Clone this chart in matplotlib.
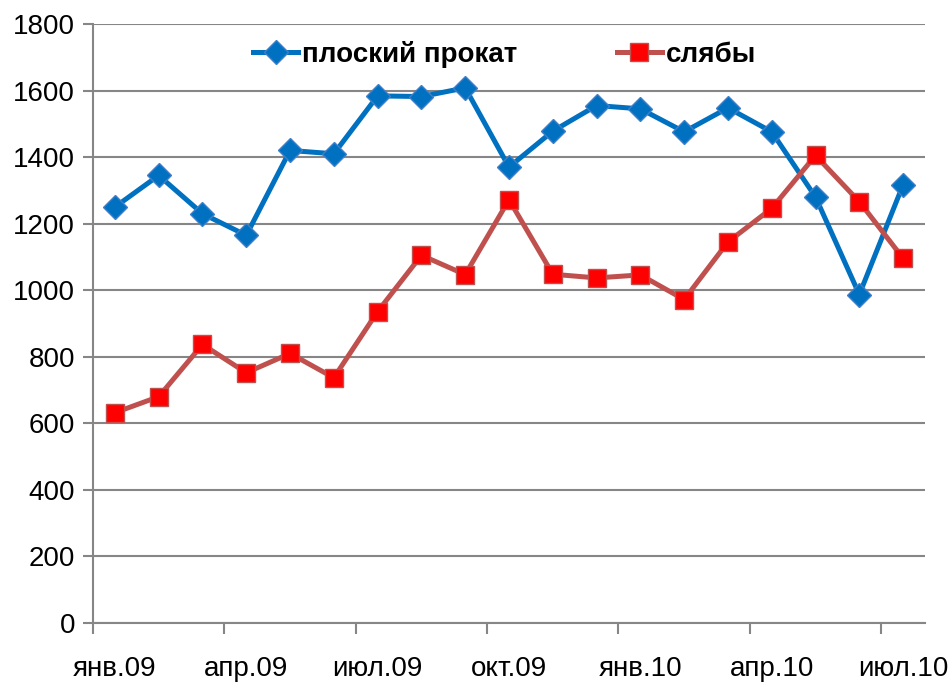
import matplotlib

matplotlib.use("Agg")
import matplotlib.pyplot as plt  # noqa: E402
import numpy as np  # noqa: E402

plt.rcParams["font.family"] = ["Liberation Sans Narrow", "Liberation Sans", "DejaVu Sans"]

months = ["янв.09", "фев.09", "мар.09", "апр.09", "май.09", "июн.09", "июл.09",
          "авг.09", "сен.09", "окт.09", "ноя.09", "дек.09", "янв.10", "фев.10",
          "мар.10", "апр.10", "май.10", "июн.10", "июл.10"]
flat_rolled = [1250, 1345, 1230, 1165, 1420, 1410, 1584, 1582, 1608, 1370, 1478,
               1555, 1545, 1476, 1548, 1476, 1280, 987, 1317]
slabs = [632, 680, 837, 752, 810, 737, 936, 1105, 1047, 1272, 1048, 1037, 1046,
         972, 1145, 1246, 1405, 1266, 1096]
yticks = [0, 200, 400, 600, 800, 1000, 1200, 1400, 1600, 1800]

grid_col = "#868686"

fig = plt.figure(figsize=(9.51, 7.0), dpi=100)
ax = fig.add_axes([93 / 951, 1 - 623 / 700, (925 - 93) / 951, (623 - 24) / 700])

x = np.arange(len(months))
ax.plot(x, flat_rolled, color="#0070C0", lw=3.6, marker="D", ms=12,
        mfc="#0070C0", mec="#3F7FC8", mew=1, label="плоский прокат", zorder=3)
ax.plot(x, slabs, color="#C0504D", lw=3.6, marker="s", ms=13,
        mfc="#FF0000", mec="#C0504D", mew=1, label="слябы", zorder=3)

ax.set_xlim(-0.5, len(months) - 0.5)
ax.set_ylim(0, 1800)
ax.set_yticks(yticks)
ax.yaxis.grid(True, color=grid_col, lw=1.5)
ax.set_axisbelow(True)

# month labels every quarter, tick marks between categories
label_idx = list(range(0, len(months), 3))
ax.set_xticks(label_idx)
ax.set_xticklabels([months[i] for i in label_idx])
ax.set_xticks(np.array(label_idx) - 0.5, minor=True)
ax.tick_params(axis="x", which="major", length=0, pad=24, labelsize=20)
ax.tick_params(axis="x", which="minor", length=8, width=1.5, color=grid_col)
ax.tick_params(axis="y", length=7, width=1.5, color=grid_col, labelsize=20, pad=6)

for side in ["top", "right"]:
    ax.spines[side].set_visible(False)
for side in ["left", "bottom"]:
    ax.spines[side].set_color(grid_col)
    ax.spines[side].set_linewidth(1.5)

leg = ax.legend(loc="upper center", bbox_to_anchor=(0.495, 1.0), ncol=2,
                frameon=False, handlelength=1.6, handletextpad=0.15,
                columnspacing=3.6, borderaxespad=0.2,
                prop={"weight": "bold", "size": 20})

fig.savefig("out.png", dpi=100, facecolor="white")
